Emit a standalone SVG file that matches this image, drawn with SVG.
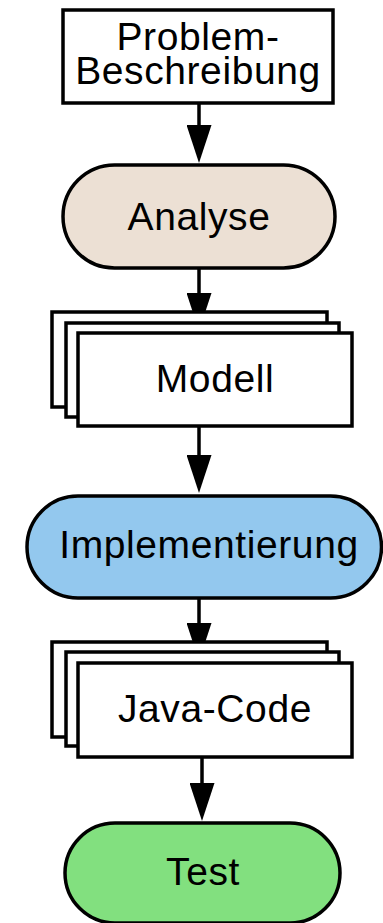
<svg xmlns="http://www.w3.org/2000/svg" width="383" height="923" viewBox="0 0 383 923">
<style>
.box{fill:#fff;stroke:#000;stroke-width:3.5}
.lbl{font-family:"Liberation Sans",Arial,sans-serif;font-size:39px;letter-spacing:0.6px;fill:#000;text-anchor:middle}
.edge{stroke:#000;stroke-width:3.5;fill:none;marker-end:url(#arr)}
</style>
<defs>
<marker id="arr" markerUnits="userSpaceOnUse" viewBox="0 0 38 25" markerWidth="38" markerHeight="25" refX="2" refY="12.5" orient="auto">
<path d="M0,0 L38,12.5 L0,25 z" fill="#000"/>
</marker>
</defs>
<rect width="383" height="923" fill="#fff"/>
<g id="connectors">
<line class="edge" x1="199" y1="103" x2="199" y2="127"/>
<line class="edge" x1="199" y1="268" x2="199" y2="295"/>
<line class="edge" x1="199" y1="426" x2="199" y2="457"/>
<line class="edge" x1="199" y1="598" x2="199" y2="625"/>
<line class="edge" x1="202" y1="757" x2="202" y2="785"/>
</g>
<g id="problem">
<rect class="box" x="63" y="10" width="270" height="93"/>
<text class="lbl" x="198" y="50">Problem-</text>
<text class="lbl" x="198" y="84">Beschreibung</text>
</g>
<g id="analyse">
<rect x="63" y="165" width="272" height="103" rx="51.5" fill="#ECE0D4" stroke="#000" stroke-width="3.5"/>
<text class="lbl" x="199" y="230">Analyse</text>
</g>
<g id="modell">
<rect class="box" x="52" y="312" width="275" height="95"/>
<rect class="box" x="66" y="323" width="273" height="94"/>
<rect class="box" x="78" y="333" width="274" height="93"/>
<text class="lbl" x="215" y="392">Modell</text>
</g>
<g id="implementierung">
<rect x="27" y="496" width="354.5" height="102" rx="51" fill="#93C8EE" stroke="#000" stroke-width="3.5"/>
<text class="lbl" x="209" y="558">Implementierung</text>
</g>
<g id="javacode">
<rect class="box" x="52" y="642" width="275" height="95"/>
<rect class="box" x="66" y="652" width="273" height="94"/>
<rect class="box" x="78" y="663" width="274" height="94"/>
<text class="lbl" x="215" y="722">Java-Code</text>
</g>
<g id="test">
<rect x="65" y="823" width="275" height="100" rx="50" fill="#82E07F" stroke="#000" stroke-width="3.5"/>
<text class="lbl" x="203" y="885">Test</text>
</g>
</svg>
